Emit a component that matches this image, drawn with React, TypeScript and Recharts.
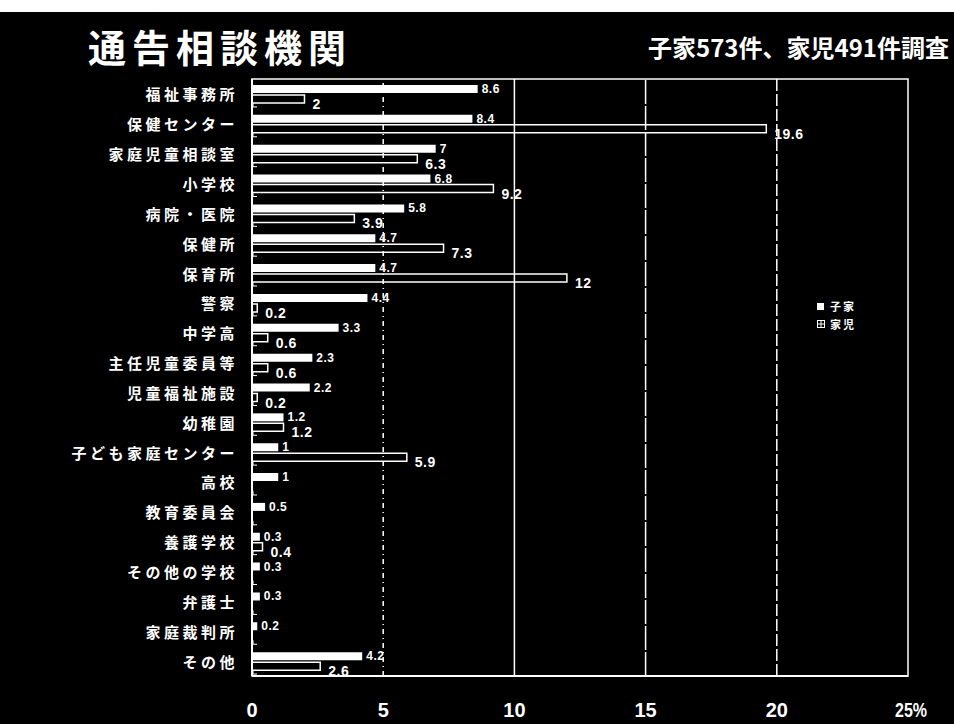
import React from 'react';
import {
  BarChart,
  Bar,
  XAxis,
  YAxis,
  ReferenceLine,
  ReferenceArea,
  LabelList,
} from 'recharts';

// 通告相談機関 — share of reports by agency (%)
const categories = [
  '福祉事務所',
  '保健センター',
  '家庭児童相談室',
  '小学校',
  '病院・医院',
  '保健所',
  '保育所',
  '警察',
  '中学高',
  '主任児童委員等',
  '児童福祉施設',
  '幼稚園',
  '子ども家庭センター',
  '高校',
  '教育委員会',
  '養護学校',
  'その他の学校',
  '弁護士',
  '家庭裁判所',
  'その他',
];

// 子家 (573件)
const kokaValues = [8.6, 8.4, 7, 6.8, 5.8, 4.7, 4.7, 4.4, 3.3, 2.3, 2.2, 1.2, 1, 1, 0.5, 0.3, 0.3, 0.3, 0.2, 4.2];

// 家児 (491件); null where nothing was reported
const kajiValues: (number | null)[] = [2, 19.6, 6.3, 9.2, 3.9, 7.3, 12, 0.2, 0.6, 0.6, 0.2, 1.2, 5.9, null, null, 0.4, null, null, null, 2.6];

const xTicks = [0, 5, 10, 15, 20, 25];

const data = categories.map((name, i) => ({
  name,
  koka: kokaValues[i],
  kaji: kajiValues[i],
}));

const NUM_FONT = '"Liberation Sans", Arial, sans-serif';
const JP_FONT = '"Noto Sans CJK JP", "Noto Sans", sans-serif';

const XTick = (props: any) => {
  const { x, payload } = props;
  const v = payload.value;
  if (v === 25) {
    // last tick carries the unit, squeezed into the tick's width
    return (
      <text
        x={x - 13}
        y={717}
        fill="#fff"
        fontSize={20}
        fontWeight={700}
        fontFamily={NUM_FONT}
        textLength={32}
        lengthAdjust="spacingAndGlyphs"
      >
        25%
      </text>
    );
  }
  return (
    <text x={x} y={717} textAnchor="middle" fill="#fff" fontSize={20} fontWeight={700} fontFamily={NUM_FONT}>
      {v}
    </text>
  );
};

const YTick = (props: any) => {
  const { y, payload } = props;
  return (
    <g>
      <text
        x={238}
        y={y}
        textAnchor="end"
        dominantBaseline="central"
        fill="#fff"
        fontSize={15}
        fontWeight={700}
        letterSpacing={3.5}
        fontFamily={JP_FONT}
      >
        {payload.value}
      </text>
      <path d={`M253 ${y + 9} V${y + 13} H257`} stroke="#fff" strokeWidth={1} fill="none" />
    </g>
  );
};

const KokaLabel = (props: any) => {
  const { x, y, width, height, value } = props;
  if (value == null) return null;
  return (
    <text
      x={x + width + 4}
      y={y + height / 2}
      dominantBaseline="central"
      fill="#fff"
      fontSize={12}
      fontWeight={700}
      letterSpacing={0.5}
      fontFamily={NUM_FONT}
    >
      {value}
    </text>
  );
};

const KajiLabel = (props: any) => {
  const { x, y, width, height, value } = props;
  if (value == null) return null;
  return (
    <text
      x={x + width + 8}
      y={y + height / 2 + 5}
      dominantBaseline="central"
      fill="#fff"
      fontSize={14}
      fontWeight={700}
      letterSpacing={0.5}
      fontFamily={NUM_FONT}
    >
      {value}
    </text>
  );
};

const SeriesKey = () => (
  <div
    style={{
      position: 'absolute',
      left: 817,
      top: 297,
      color: '#fff',
      fontFamily: JP_FONT,
      fontSize: 11,
      fontWeight: 700,
      lineHeight: '18px',
    }}
  >
    <div style={{ display: 'flex', alignItems: 'center' }}>
      <span style={{ display: 'inline-block', width: 7, height: 7, background: '#fff', marginRight: 6 }} />
      <span style={{ letterSpacing: 2 }}>子家</span>
    </div>
    <div style={{ display: 'flex', alignItems: 'center' }}>
      <svg width={8} height={8} style={{ marginRight: 5 }}>
        <rect x={0.5} y={0.5} width={7} height={7} fill="#000" stroke="#fff" strokeWidth={1} />
        <path d="M1 4 H7 M4 1 V7" stroke="#fff" strokeWidth={1} />
      </svg>
      <span style={{ letterSpacing: 2 }}>家児</span>
    </div>
  </div>
);

export default function App() {
  return (
    <div
      style={{
        position: 'absolute',
        left: 0,
        top: 0,
        width: 954,
        height: 724,
        background: '#000',
        overflow: 'hidden',
      }}
    >
      <div style={{ position: 'absolute', left: 0, top: 0, width: 954, height: 12, background: '#fff' }} />
      <div
        style={{
          position: 'absolute',
          left: 88,
          top: 20,
          color: '#fff',
          fontFamily: JP_FONT,
          fontWeight: 700,
          fontSize: 38,
          letterSpacing: 6,
          lineHeight: '52px',
          whiteSpace: 'nowrap',
        }}
      >
        通告相談機関
      </div>
      <div
        style={{
          position: 'absolute',
          left: 648,
          top: 31,
          color: '#fff',
          fontFamily: JP_FONT,
          fontWeight: 700,
          fontSize: 24,
          lineHeight: '32px',
          whiteSpace: 'nowrap',
        }}
      >
        子家573件、家児491件調査
      </div>
      <div style={{ position: 'absolute', left: 0, top: 0 }}>
        <BarChart
          width={954}
          height={724}
          data={data}
          layout="vertical"
          margin={{ top: 79, right: 46, bottom: 0, left: 0 }}
          barSize={8}
          barGap={2}
        >
          <XAxis
            type="number"
            domain={[0, 25]}
            ticks={xTicks}
            height={48}
            axisLine={{ stroke: '#fff', strokeWidth: 2 }}
            tickLine={false}
            tick={<XTick />}
            allowDataOverflow
          />
          <YAxis
            type="category"
            dataKey="name"
            width={252}
            axisLine={{ stroke: '#fff', strokeWidth: 2 }}
            tickLine={false}
            tick={<YTick />}
            interval={0}
          />
          <ReferenceLine x={5} stroke="#fff" strokeWidth={1.5} strokeDasharray="5 4 1 4" />
          <ReferenceLine x={10} stroke="#fff" strokeWidth={1.5} />
          <ReferenceLine x={15} stroke="#fff" strokeWidth={1.5} strokeDasharray="24 2" />
          <ReferenceLine x={20} stroke="#fff" strokeWidth={1.5} strokeDasharray="12 3" />
          <ReferenceArea x1={0} x2={25} fill="none" stroke="#fff" strokeWidth={1.5} />
          <Bar dataKey="koka" name="子家" fill="#fff" isAnimationActive={false}>
            <LabelList dataKey="koka" content={<KokaLabel />} />
          </Bar>
          <Bar dataKey="kaji" name="家児" fill="#000" stroke="#fff" strokeWidth={1.5} isAnimationActive={false}>
            <LabelList dataKey="kaji" content={<KajiLabel />} />
          </Bar>
        </BarChart>
      </div>
      <SeriesKey />
    </div>
  );
}
